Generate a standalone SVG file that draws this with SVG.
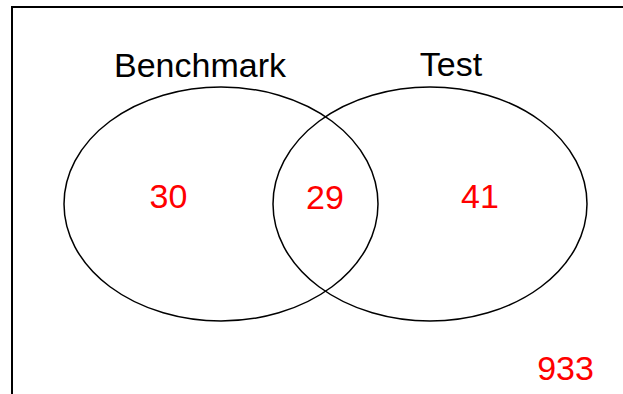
<svg xmlns="http://www.w3.org/2000/svg" width="623" height="394" viewBox="0 0 623 394">
  <style>
    .frame { fill: none; stroke: #000; stroke-width: 2; }
    .set { fill: none; stroke: #000; stroke-width: 1.5; }
    .title { font-family: "Liberation Sans", Arial, sans-serif; font-size: 34px; fill: #000; text-anchor: middle; }
    .count { font-family: "Liberation Sans", Arial, sans-serif; font-size: 34px; fill: #ff0000; text-anchor: middle; }
  </style>
  <rect width="623" height="394" fill="#fff"/>
  <!-- plot frame -->
  <path class="frame" d="M12,394 V7 H623"/>
  <g id="benchmark">
    <ellipse class="set" cx="221" cy="204" rx="157" ry="117"/>
    <text class="title" x="200" y="77">Benchmark</text>
    <text class="count" x="168.5" y="208">30</text>
  </g>
  <g id="test">
    <ellipse class="set" cx="430" cy="204" rx="157" ry="117"/>
    <text class="title" x="451" y="76">Test</text>
    <text class="count" x="480" y="208">41</text>
  </g>
  <g id="overlap">
    <text class="count" x="325" y="209">29</text>
  </g>
  <g id="outside">
    <text class="count" x="565.5" y="380">933</text>
  </g>
  <g id="connectors"></g>
</svg>
